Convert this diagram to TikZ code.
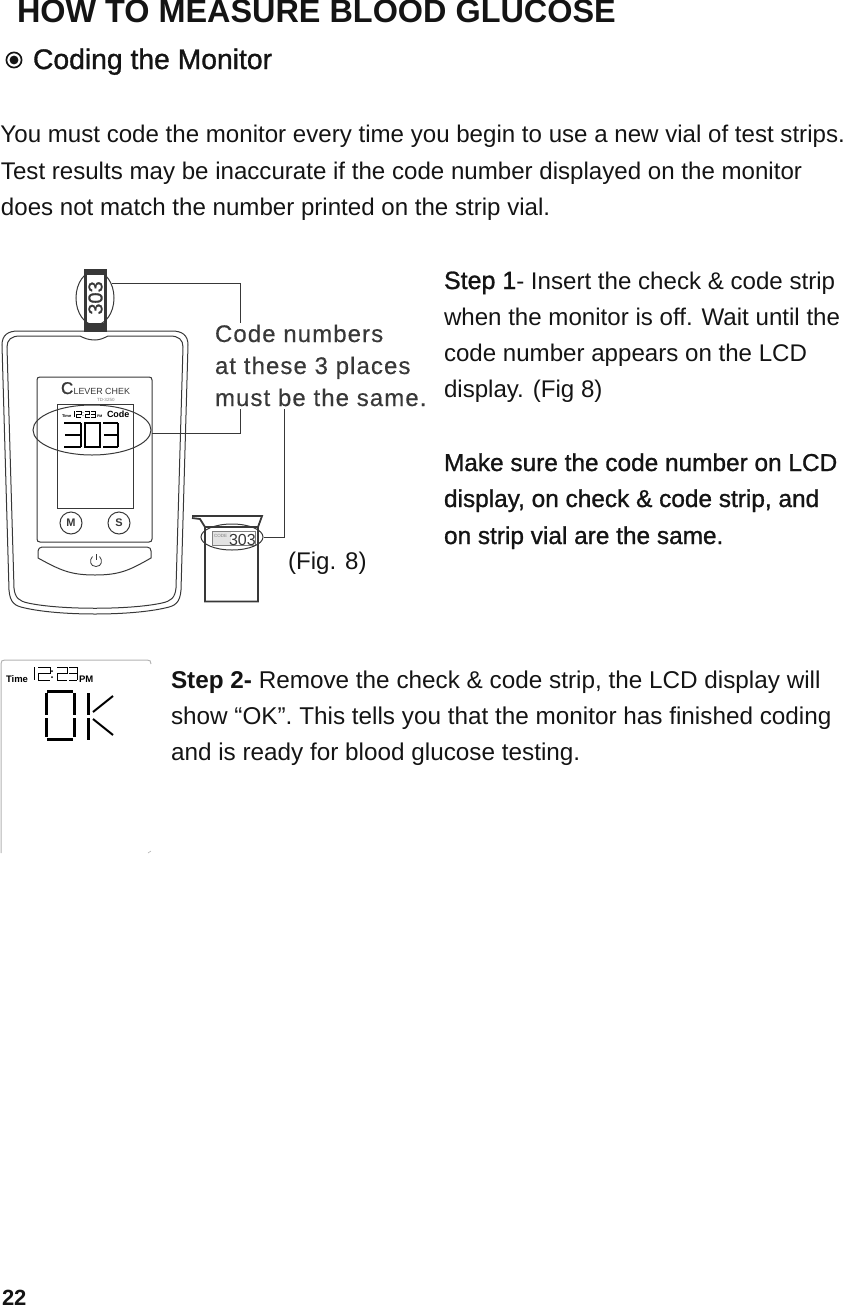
\documentclass[tikz,border=0pt]{standalone}
\usepackage{fontspec}
\setmainfont{Liberation Sans}
\newfontfamily\fakebold[FakeBold=1.1]{Liberation Sans}
\newfontfamily\labfont[LetterSpace=4.5,FakeBold=0.4]{Liberation Sans}
\usetikzlibrary{shapes.geometric}
\definecolor{ink}{gray}{0.08}
\definecolor{figline}{gray}{0.22}
\newcommand{\dgThree}[4]{\begin{scope}[shift={(#1,#2)},xscale=#3,yscale=#4]\draw[seg] (0,0)--(1,0) (0.05,.5)--(1,.5) (0,1)--(1,1) (1,0)--(1,1);\end{scope}}
\newcommand{\dgTwo}[4]{\begin{scope}[shift={(#1,#2)},xscale=#3,yscale=#4]\draw[seg] (0,0)--(1,0)--(1,.5)--(0,.5)--(0,1)--(1,1);\end{scope}}
\newcommand{\dgZero}[4]{\begin{scope}[shift={(#1,#2)},xscale=#3,yscale=#4]\draw[seg] (0,0) rectangle (1,1);\end{scope}}
\tikzset{x=1pt,y=-1pt,
 txt/.style={anchor=base west,inner sep=0pt,outer sep=0pt,text=ink},
 body/.style={txt,font=\fontsize{24.1}{24.1}\selectfont},
 strong/.style={txt,font=\fontsize{24.4}{24.4}\fakebold\selectfont},
 seg/.style={draw=black,line width=1.5pt},
 fig/.style={draw=figline,line width=1pt},
 ringmark/.style={ellipse,draw=figline,line width=1pt,inner sep=0pt,fill=none},
 conn/.style={draw=figline,line width=1pt},
 lab/.style={txt,text=figline,font=\fontsize{24}{24}\labfont\selectfont}}
\begin{document}
\begin{tikzpicture}
\useasboundingbox (0,0) rectangle (844,1309);
% headings
\node[txt,font=\fontsize{32.4}{32.4}\bfseries\selectfont] (title) at (17,23) {HOW TO MEASURE BLOOD GLUCOSE};
\draw[line width=1.7pt,draw=ink] (14,60) circle (7.6);
\fill[ink] (14,60) circle (4.4);
\node[txt,font=\fontsize{28.3}{28.3}\fakebold\selectfont] (coding) at (33,69) {Coding the Monitor};
\node[body] (p1) at (0.5,142) {You must code the monitor every time you begin to use a new vial of test strips.};
\node[body] (p2) at (1,179) {Test results may be inaccurate if the code number displayed on the monitor};
\node[body] (p3) at (1,215) {does not match the number printed on the strip vial.};
% step 1
\node[body] (s1a) at (444,289) {{\fontsize{25}{25}\fakebold\selectfont Step 1}- Insert the check \& code strip};
\node[body] (s1b) at (444,325) {when the monitor is off. Wait until the};
\node[body] (s1c) at (444,361) {code number appears on the LCD};
\node[body] (s1d) at (444,397) {display. (Fig 8)};
\node[strong] (m1) at (444,471) {Make sure the code number on LCD};
\node[strong] (m2) at (444,507) {display, on check \& code strip, and};
\node[strong] (m3) at (444,544) {on strip vial are the same.};
\node[body] (figlab) at (288,569) {(Fig. 8)};
% step 2
\node[body,font=\fontsize{24.3}{24.3}\selectfont] (s2a) at (171,688) {\textbf{Step 2-} Remove the check \& code strip, the LCD display will};
\node[body,font=\fontsize{24.3}{24.3}\selectfont] (s2b) at (171,724) {show “OK”. This tells you that the monitor has finished coding};
\node[body,font=\fontsize{24.3}{24.3}\selectfont] (s2c) at (171,760) {and is ready for blood glucose testing.};
\node[txt,font=\fontsize{22}{22}\bfseries\selectfont] (pg) at (2,1305) {22};
% strip
\fill[figline] (84,269) rectangle (107,275);
\fill[figline] (84,323) rectangle (107,332);
\draw[fig,line width=3pt] (85.5,269) -- (85.5,332) (105.5,269) -- (105.5,332);
\node[txt,text=figline,font=\fontsize{20}{20}\fakebold\selectfont,rotate=90,anchor=center] (stripnum) at (95.5,298) {303};
\node[ringmark,minimum width=38pt,minimum height=54pt] (ringA) at (95,298) {};
% monitor
\draw[fig] (2,345) .. controls (2,335) and (8,331) .. (18,331) -- (172,331) .. controls (182,331) and (188,335) .. (188,345) -- (181,590) .. controls (180,603) and (175,606) .. (165,608) .. controls (130,616) and (60,616) .. (25,608) .. controls (15,606) and (10,603) .. (9,590) -- cycle;
\draw[fig] (7,347) .. controls (7,340) and (11,336) .. (20,336) -- (80,336) .. controls (84,338) and (88,340) .. (95,340) .. controls (100,340) and (104,338) .. (108,336) -- (170,336) .. controls (179,336) and (183,340) .. (183,347) -- (176,588) .. controls (175,598) and (171,601) .. (162,603) .. controls (130,610) and (60,610) .. (28,603) .. controls (19,601) and (15,598) .. (14,588) -- cycle;
\draw[fig] (37,380) .. controls (37,378) and (38,377) .. (40,377) -- (149,377) .. controls (151,377) and (152,378) .. (152,380) -- (152,539) .. controls (152,541) and (151,542) .. (149,542) -- (40,542) .. controls (38,542) and (37,541) .. (37,539) -- cycle;
\draw[fig] (57,404) rectangle (133,508);
% brand
\node[txt,text=figline] (brand) at (61,394) {{\fontsize{17}{17}\fakebold\selectfont C}\kern0.3pt{\fontsize{8.9}{8.9}\selectfont LEVER CHEK}};
\node[txt,text=gray,font=\fontsize{4.5}{4.5}\selectfont] (model) at (97,401) {TD-3250};
% LCD
\node[txt,text=black,font=\fontsize{4}{4}\bfseries\selectfont] (tm) at (62,417) {Time};
\begin{scope}[seg/.append style={line width=.5pt}]
\draw[seg] (74,411)--(74,417);
\dgTwo{76}{411}{5}{6}
\fill (83,412.5) circle (.4) (83,415.5) circle (.4);
\dgTwo{85}{411}{4.5}{6}
\dgThree{91}{411}{4.5}{6}
\end{scope}
\node[txt,text=black,font=\fontsize{3.5}{3.5}\bfseries\selectfont] (pm1) at (97,417) {PM};
\node[txt,text=black,font=\fontsize{9}{9}\bfseries\selectfont] (codew) at (107,417) {Code};
\dgThree{64}{423}{17}{24}
\dgZero{85}{423}{15}{24}
\dgThree{103}{423}{15}{24}
\node[ringmark,minimum width=118pt,minimum height=50pt] (ringB) at (92,430) {};
% buttons
\node[circle,draw=figline,line width=1pt,minimum size=22pt,inner sep=0pt,text=figline,font=\fontsize{11}{11}\bfseries\selectfont] (btnM) at (71,523) {M};
\node[circle,draw=figline,line width=1pt,minimum size=22pt,inner sep=0pt,text=figline,font=\fontsize{11}{11}\bfseries\selectfont] (btnS) at (119,523) {S};
\draw[fig] (42,547) -- (147,547) .. controls (150,547) and (151,549) .. (151,551) -- (151,558) .. controls (130,570) and (120,575) .. (95,575) .. controls (70,575) and (60,570) .. (38,558) -- (38,551) .. controls (38,549) and (40,547) .. (42,547) -- cycle;
\draw[fig,line width=.8pt] (92.5,556.5) .. controls (89,560) and (90,566.5) .. (96,566.5) .. controls (102,566.5) and (103,560) .. (99.5,556.5);
\draw[fig,line width=.8pt] (96,554) -- (96,560);
% vial
\draw[fig,line width=1.8pt] (192,516) -- (262,516) -- (258,527) -- (258,601.5) -- (205,601.5) -- (205,527) -- (200,519) -- (192,518);
\draw[fig,line width=1.4pt] (205,527) -- (258,527);
\fill[gray!22] (212,531) rectangle (231,545);
\draw[draw=gray,line width=.7pt] (212,531) rectangle (255,545);
\node[txt,text=gray,font=\fontsize{4.5}{4.5}\selectfont] (vcode) at (214,537) {CODE};
\node[txt,text=figline,font=\fontsize{16}{16}\selectfont] (vnum) at (229,545) {303};
\node[ringmark,minimum width=62pt,minimum height=26pt] (ringC) at (232,537) {};
% label and connectors
\node[lab] (l1) at (215,342) {Code numbers};
\node[lab] (l2) at (215,374) {at these 3 places};
\node[lab] (l3) at (215,406) {must be the same.};
\coordinate (endA) at (240,323);
\coordinate (endB) at (240,409);
\coordinate (endC) at (284,409);
\draw[conn] (ringA.40) -- (ringA.40 -| endA) -- (endA);
\draw[conn] (ringB.east |- 0,433) -- (endB |- 0,433) -- (endB);
\draw[conn] (ringC.east) -- (ringC.east -| endC) -- (endC);
% OK panel
\draw[draw=gray!60,line width=1pt] (1,853) -- (1,664) .. controls (1,661) and (2,660) .. (5,660) -- (147,660) .. controls (150,660) and (151,661) .. (151,664);
\draw[draw=gray!60,line width=.6pt] (148,853) -- (151,851);
\node[txt,text=black,font=\fontsize{9.5}{9.5}\bfseries\selectfont] (tm2) at (6,682) {Time};
\begin{scope}[seg/.append style={line width=1pt}]
\draw[seg] (34,667)--(34,680);
\dgTwo{38}{667}{12}{13}
\fill (52,671) circle (1) (52,677) circle (1);
\dgTwo{57}{667}{10}{13}
\dgThree{69}{667}{8}{13}
\end{scope}
\node[txt,text=black,font=\fontsize{9.5}{9.5}\bfseries\selectfont] (pm2) at (79,682) {PM};
\begin{scope}[seg/.append style={line width=3pt}]
\draw[seg] (47,691) -- (73,691) (47,739) -- (73,739) (46,693) -- (46,715) (46,718) -- (46,737) (74,693) -- (74,715) (74,718) -- (74,737);
\draw[seg] (88,693) -- (88,715) (88,718) -- (88,740);
\draw[seg,line width=2pt] (93,712) -- (113,696) (93,719) -- (113,735);
\end{scope}
\end{tikzpicture}
\end{document}
